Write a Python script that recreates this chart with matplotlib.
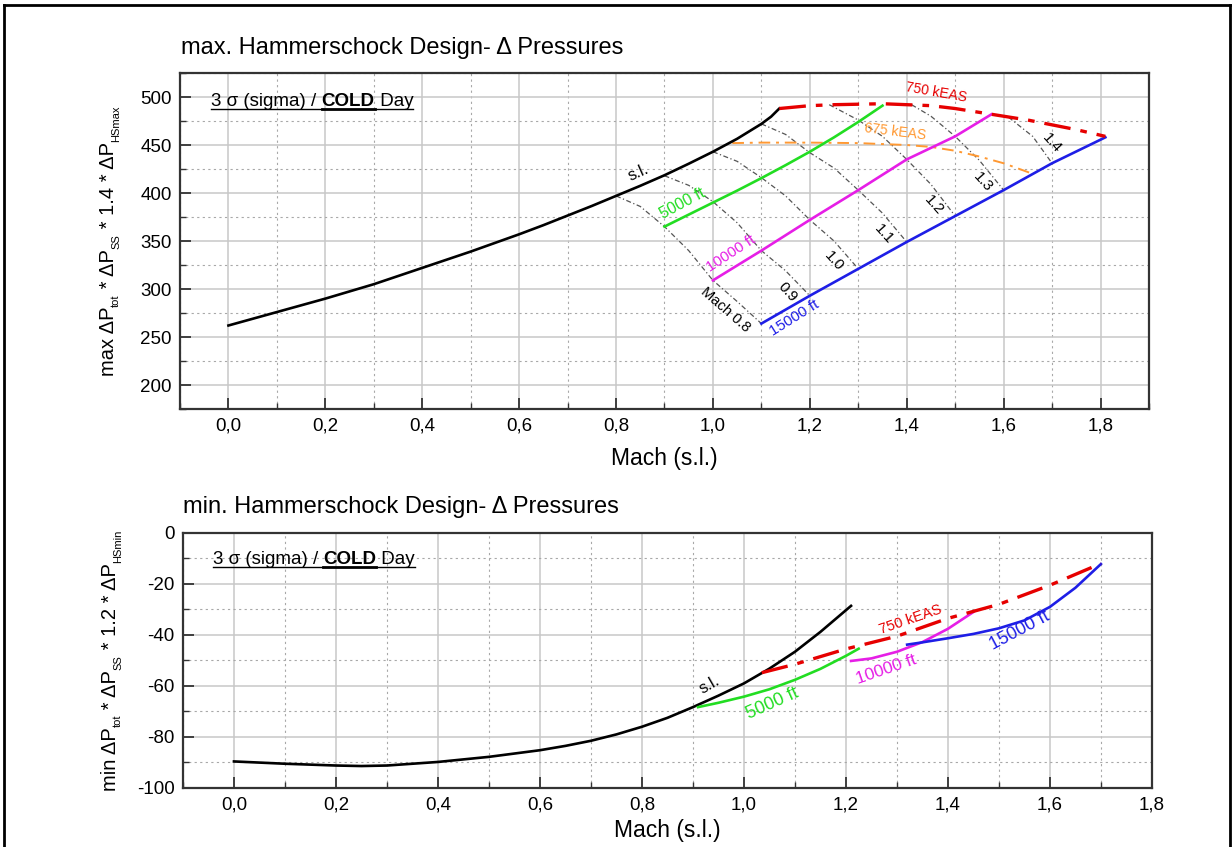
import numpy as np
import matplotlib
matplotlib.use("Agg")
import matplotlib.pyplot as plt
from matplotlib.ticker import MultipleLocator, FuncFormatter
from matplotlib.lines import Line2D
from matplotlib.text import Annotation

plt.rcParams['font.family'] = ['Liberation Sans', 'DejaVu Sans']
plt.rcParams['mathtext.fontset'] = 'custom'
plt.rcParams['mathtext.rm'] = 'Liberation Sans'
plt.rcParams['mathtext.it'] = 'Liberation Sans:italic'
plt.rcParams['mathtext.bf'] = 'Liberation Sans:bold'
plt.rcParams['mathtext.default'] = 'regular'
plt.rcParams['axes.unicode_minus'] = False

# ── max. pressures (upper chart) ─────────────────────────────
sl_max_m   = [0.0, 0.05, 0.1, 0.15, 0.2, 0.25, 0.3, 0.35, 0.4, 0.45, 0.5, 0.55, 0.6, 0.65,
              0.7, 0.75, 0.8, 0.85, 0.9, 0.95, 1.0, 1.05, 1.1, 1.12, 1.137]
sl_max_p   = [262, 269, 276, 283, 290, 297.5, 305, 313.5, 322, 330.5, 339, 348, 357, 366.5,
              376.5, 386.5, 397, 407.5, 418.5, 430.5, 443, 456.5, 472, 479.5, 488]
h5_max_m   = [0.9, 0.95, 1.0, 1.05, 1.1, 1.15, 1.2, 1.25, 1.3, 1.35]
h5_max_p   = [365, 377.5, 390, 402.5, 415.5, 429, 443, 458, 474, 491]
h10_max_m  = [1.0, 1.1, 1.2, 1.3, 1.4, 1.5, 1.575]
h10_max_p  = [309, 340, 372, 403, 435, 459, 482]
h15_max_m  = [1.1, 1.2, 1.3, 1.4, 1.5, 1.6, 1.7, 1.81]
h15_max_p  = [264, 293, 321, 349, 376, 403, 431, 458]
eas750_m   = [1.137, 1.2, 1.25, 1.3, 1.35, 1.4, 1.45, 1.5, 1.55, 1.6, 1.65, 1.7, 1.75, 1.81]
eas750_p   = [488, 491, 492, 492.5, 493, 492, 491, 488, 484, 480, 476, 471, 466, 459]
eas675_m   = [1.04, 1.1, 1.2, 1.3, 1.4, 1.45, 1.5, 1.55, 1.6, 1.66]
eas675_p   = [452, 452.5, 452.5, 452, 450, 448, 444, 438, 431, 420]

# constant-Mach lines: (mach s.l., pressure) pairs
iso_mach = {
    "0.8": ([0.8, 0.85, 0.9, 0.95, 1.0, 1.05, 1.1], [397, 386, 365, 340, 309, 287, 264]),
    "0.9": ([0.9, 0.95, 1.0, 1.05, 1.1, 1.15, 1.2], [418, 408, 391, 369, 340, 319, 293]),
    "1.0": ([1.0, 1.05, 1.1, 1.15, 1.2, 1.25, 1.3], [443, 433, 416, 397, 372, 350, 321]),
    "1.1": ([1.1, 1.15, 1.2, 1.25, 1.3, 1.35, 1.4], [472, 461, 442, 426, 403, 379, 349]),
    "1.2": ([1.24, 1.3, 1.35, 1.4, 1.45, 1.5], [492, 476, 459, 435, 409, 376]),
    "1.3": ([1.41, 1.45, 1.5, 1.55, 1.6], [492, 480, 459, 434, 403]),
    "1.4": ([1.61, 1.66, 1.7], [479, 459, 431]),
}

# ── min. pressures (lower chart) ─────────────────────────────
sl_min_m   = [0.0, 0.1, 0.2, 0.25, 0.3, 0.4, 0.5, 0.6, 0.65, 0.7, 0.75, 0.8, 0.85, 0.9,
              0.95, 1.0, 1.05, 1.1, 1.15, 1.21]
sl_min_p   = [-89.6, -90.5, -91.2, -91.4, -91.2, -89.8, -87.8, -85.2, -83.5, -81.5, -79,
              -76, -72.5, -68.3, -63.8, -59, -53.2, -46.6, -38.8, -28.6]
h5_min_m   = [0.91, 0.95, 1.0, 1.05, 1.1, 1.15, 1.2, 1.225]
h5_min_p   = [-68.3, -66.6, -64.2, -61.3, -57.6, -53.3, -48.2, -45.4]
h10_min_m  = [1.21, 1.25, 1.3, 1.35, 1.4, 1.45]
h10_min_p  = [-50.2, -49.2, -46.6, -42.8, -37.6, -31.0]
h15_min_m  = [1.32, 1.35, 1.4, 1.45, 1.5, 1.55, 1.6, 1.65, 1.7]
h15_min_p  = [-43.8, -42.9, -41.3, -39.6, -37.4, -34.3, -29.0, -21.5, -12.2]
eas750_min_m = [1.035, 1.1, 1.2, 1.3, 1.4, 1.5, 1.6, 1.7]
eas750_min_p = [-54.8, -51.5, -45.5, -40.5, -33.5, -28, -20.5, -12]

GREEN, MAGENTA, BLUE = "#22dd22", "#e61ee6", "#1e1ee6"
RED, ORANGE = "#e60000", "#ff9933"
dashdot_red = (0, (8, 3, 2, 3))
dashdot_or = (0, (6, 3, 1.5, 3))
iso_style = (0, (4, 2, 1, 2))

comma = FuncFormatter(lambda v, pos: f"{v:.1f}".replace(".", ","))


def style_axes(ax, xlim, ylim, ymajor, yminor):
    ax.set_xlim(*xlim)
    ax.set_ylim(*ylim)
    ax.xaxis.set_major_locator(MultipleLocator(0.2))
    ax.xaxis.set_minor_locator(MultipleLocator(0.1))
    ax.yaxis.set_major_locator(MultipleLocator(ymajor))
    ax.yaxis.set_minor_locator(MultipleLocator(yminor))
    ax.xaxis.set_major_formatter(comma)
    ax.grid(which="major", color="#c8c8c8", lw=1.1, ls="-")
    ax.grid(which="minor", color="#a8a8a8", lw=0.8, ls=(0, (2, 3)))
    ax.set_axisbelow(True)
    ax.tick_params(which="major", direction="in", length=8, width=1.3, labelsize=13.5,
                   pad=6, colors="#333333", labelcolor="black")
    ax.tick_params(which="minor", direction="in", length=4, width=1.0, colors="#333333")
    for s in ax.spines.values():
        s.set_color("#333333")
        s.set_linewidth(1.6)


def cold_day_note(ax, x, y):
    t1 = ax.text(x, y, "3 σ (sigma) / ", transform=ax.transAxes, fontsize=13.5,
                 va="bottom", ha="left")
    t2 = ax.annotate("COLD", xy=(1, 0), xycoords=t1, fontsize=13.5, weight="bold",
                     va="bottom", ha="left")
    t3 = ax.annotate(" Day", xy=(1, 0), xycoords=t2, fontsize=13.5, va="bottom", ha="left")
    return [(t1, 1.0), (t2, 2.0), (t3, 1.0)]


def vertical_label(fig, x_right, parts, fs=14.5):
    # rotated axis label built piece by piece so the subscripts can be small and low
    sub_fs = fs * 0.55
    jump = 0.25 * fs + 0.21 * (sub_fs - fs)
    pieces = [fig.text(x_right, 0.5, parts[0][0], rotation=90, ha="right", va="bottom",
                       fontsize=fs)]
    prev_sub = False
    for text, is_sub in parts[1:]:
        dx = jump if (is_sub and not prev_sub) else (-jump if (prev_sub and not is_sub) else 0)
        a = Annotation(text, xy=(1, 1), xycoords=pieces[-1], xytext=(dx, 0),
                       textcoords="offset points", rotation=90, ha="right", va="bottom",
                       fontsize=sub_fs if is_sub else fs)
        fig.add_artist(a)
        pieces.append(a)
        prev_sub = is_sub
    return pieces


fig = plt.figure(figsize=(12.32, 8.47), dpi=100)

# ── upper chart ──────────────────────────────────────────────
ax1 = fig.add_axes([0.1461, 0.5171, 0.7865, 0.3967])
style_axes(ax1, (-0.1, 1.9), (175, 525), 50, 25)

for name, (m, p) in iso_mach.items():
    ax1.plot(m, p, color="#555555", lw=0.9, ls=iso_style)

ax1.plot(eas675_m, eas675_p, color=ORANGE, lw=1.4, ls=dashdot_or)
ax1.plot(sl_max_m, sl_max_p, color="black", lw=1.9)
ax1.plot(h5_max_m, h5_max_p, color=GREEN, lw=1.9)
ax1.plot(h10_max_m, h10_max_p, color=MAGENTA, lw=1.9)
ax1.plot(h15_max_m, h15_max_p, color=BLUE, lw=1.9)
ax1.plot(eas750_m, eas750_p, color=RED, lw=2.4, ls=dashdot_red)

lab = dict(ha="center", va="center", rotation_mode="anchor")
ax1.text(0.847, 421, "s.l.", fontsize=12, rotation=24, **lab)
ax1.text(0.937, 389.5, "5000 ft", fontsize=11.5, color=GREEN, rotation=28, **lab)
ax1.text(1.038, 337, "10000 ft", fontsize=11, color=MAGENTA, rotation=33, **lab)
ax1.text(1.169, 270, "15000 ft", fontsize=11, color=BLUE, rotation=32, **lab)
ax1.text(1.025, 278, "Mach 0.8", fontsize=10.5, rotation=-41, **lab)
for txt, mx, py in [("0.9", 1.154, 297), ("1.0", 1.249, 329), ("1.1", 1.353, 357.5),
                    ("1.2", 1.456, 387), ("1.3", 1.558, 411.5), ("1.4", 1.699, 451.5)]:
    ax1.text(mx, py, txt, fontsize=11, rotation=-48, **lab)
ax1.text(1.46, 504.5, "750 kEAS", fontsize=10, color=RED, rotation=-10, **lab)
ax1.text(1.377, 464, "675 kEAS", fontsize=10, color=ORANGE, rotation=-7, **lab)

ax1.set_xlabel("Mach (s.l.)", fontsize=16.5, labelpad=9)
note1 = cold_day_note(ax1, 0.032, 0.89)
ylab1 = vertical_label(fig, 0.0958, [("max ΔP", False), ("tot", True), (" * ΔP", False),
                                     ("SS", True), (" * 1.4 * ΔP", False), ("HSmax", True)])

# ── lower chart ──────────────────────────────────────────────
ax2 = fig.add_axes([0.1485, 0.0697, 0.7865, 0.3011])
style_axes(ax2, (-0.1, 1.8), (-100, 0), 20, 10)

ax2.plot(sl_min_m, sl_min_p, color="black", lw=1.9)
ax2.plot(h5_min_m, h5_min_p, color=GREEN, lw=1.9)
ax2.plot(h10_min_m, h10_min_p, color=MAGENTA, lw=1.9)
ax2.plot(h15_min_m, h15_min_p, color=BLUE, lw=1.9)
ax2.plot(eas750_min_m, eas750_min_p, color=RED, lw=2.4, ls=dashdot_red)

ax2.text(0.932, -59.6, "s.l.", fontsize=12, rotation=30, **lab)
ax2.text(1.055, -67.1, "5000 ft", fontsize=13, color=GREEN, rotation=24, **lab)
ax2.text(1.278, -53.7, "10000 ft", fontsize=12.5, color=MAGENTA, rotation=19, **lab)
ax2.text(1.54, -38.5, "15000 ft", fontsize=13, color=BLUE, rotation=28, **lab)
ax2.text(1.327, -34.1, "750 kEAS", fontsize=10.5, color=RED, rotation=19, **lab)

ax2.set_xlabel("Mach (s.l.)", fontsize=16.5, labelpad=4)
note2 = cold_day_note(ax2, 0.031, 0.863)
ylab2 = vertical_label(fig, 0.0975, [("min ΔP", False), ("tot", True), (" * ΔP", False),
                                     ("SS", True), (" * 1.2 * ΔP", False), ("HSmin", True)])

# titles
fig.text(0.147, 0.9433, "max. Hammerschock Design- Δ Pressures", fontsize=17, va="center")
fig.text(0.1485, 0.4014, "min. Hammerschock Design- Δ Pressures", fontsize=17, va="center")

# outer frame
for xs, ys in [((0.0035, 0.0035), (0.0, 0.994)), ((0.0035, 0.998), (0.994, 0.994)),
               ((0.998, 0.998), (0.0, 0.994))]:
    fig.add_artist(Line2D(xs, ys, transform=fig.transFigure, color="black", lw=2))

fig.canvas.draw()
r = fig.canvas.get_renderer()
inv = fig.transFigure.inverted()

# centre the stacked y labels on their axes
for pieces, ax in ((ylab1, ax1), (ylab2, ax2)):
    y0 = min(p.get_window_extent(r).y0 for p in pieces)
    y1 = max(p.get_window_extent(r).y1 for p in pieces)
    target = ax.get_window_extent(r).y0 + ax.get_window_extent(r).height / 2
    shift = target - (y0 + y1) / 2
    x, y = pieces[0].get_position()
    pieces[0].set_position((x, y + shift / fig.bbox.height))

# underline the "3 sigma / COLD Day" notes
for note in (note1, note2):
    for t, w in note:
        bb = t.get_window_extent(r)
        (x0, y0), (x1, _) = inv.transform([(bb.x0, bb.y0 + 1), (bb.x1, bb.y0 + 1)])
        fig.add_artist(Line2D((x0, x1), (y0, y0), transform=fig.transFigure,
                              color="black", lw=w))

fig.savefig("out.png", dpi=100)
